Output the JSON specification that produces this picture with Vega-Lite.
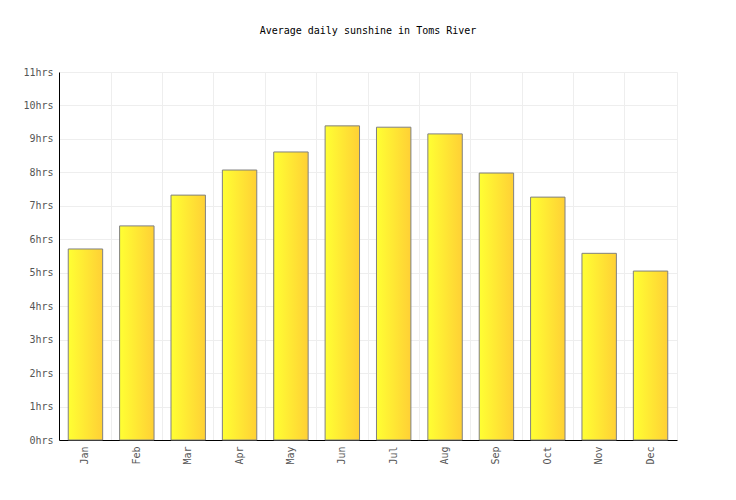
{
  "$schema": "https://vega.github.io/schema/vega-lite/v6.json",
  "autosize": {"type": "none"},
  "width": 618,
  "height": 368,
  "padding": {"left": 59, "top": 72, "right": 59, "bottom": 60},
  "background": "white",
  "title": {
    "text": "Average daily sunshine in Toms River",
    "font": "DejaVu Sans Mono",
    "fontSize": 10,
    "fontWeight": "normal",
    "color": "#000000",
    "offset": 31,
    "anchor": "middle"
  },
  "config": {
    "view": {"stroke": "#eeeeee"},
    "axis": {
      "labelFont": "DejaVu Sans Mono",
      "labelFontSize": 10,
      "labelColor": "#555555",
      "gridColor": "#eeeeee",
      "gridWidth": 1,
      "domainColor": "#000000",
      "domainWidth": 1,
      "ticks": false,
      "title": null
    }
  },
  "data": {
    "values": [
      {"month": "Jan", "hours": 5.71},
      {"month": "Feb", "hours": 6.40},
      {"month": "Mar", "hours": 7.32},
      {"month": "Apr", "hours": 8.07},
      {"month": "May", "hours": 8.61},
      {"month": "Jun", "hours": 9.39},
      {"month": "Jul", "hours": 9.35},
      {"month": "Aug", "hours": 9.15},
      {"month": "Sep", "hours": 7.98},
      {"month": "Oct", "hours": 7.26},
      {"month": "Nov", "hours": 5.58},
      {"month": "Dec", "hours": 5.05}
    ]
  },
  "mark": {
    "type": "bar",
    "stroke": "#808080",
    "strokeWidth": 1,
    "color": {
      "gradient": "linear",
      "x1": 0, "y1": 0, "x2": 1, "y2": 0,
      "stops": [
        {"offset": 0, "color": "#ffff33"},
        {"offset": 1, "color": "#ffd035"}
      ]
    }
  },
  "encoding": {
    "x": {
      "field": "month",
      "type": "ordinal",
      "sort": null,
      "scale": {"paddingInner": 0.33, "paddingOuter": 0.18},
      "axis": {"labelAngle": -90, "labelPadding": 6, "grid": true, "bandPosition": -0.246}
    },
    "y": {
      "field": "hours",
      "type": "quantitative",
      "scale": {"domain": [0, 11], "nice": false},
      "axis": {
        "values": [0, 1, 2, 3, 4, 5, 6, 7, 8, 9, 10, 11],
        "labelExpr": "datum.value + 'hrs'",
        "labelPadding": 6,
        "grid": true
      }
    }
  }
}
